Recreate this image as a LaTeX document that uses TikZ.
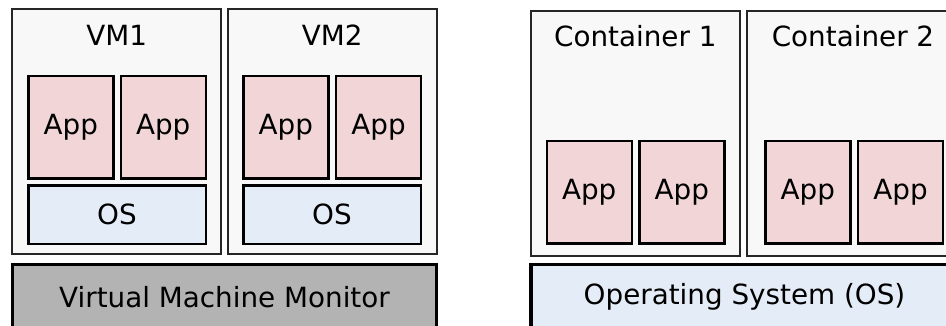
\documentclass[tikz,border=0pt]{standalone}
\usepackage{fontspec}
\setmainfont{DejaVu Sans}
\definecolor{outerfill}{RGB}{248,248,248}
\definecolor{appfill}{RGB}{242,214,215}
\definecolor{osfill}{RGB}{228,236,247}
\definecolor{vmmfill}{RGB}{179,179,179}
\begin{document}
\begin{tikzpicture}[x=1pt,y=-1pt,
  every node/.style={inner sep=0pt, outer sep=0pt, font=\fontsize{27.8}{33}\selectfont},
  outerbox/.style={draw=black!85, line width=2.3pt, fill=outerfill, anchor=north west, minimum width=209pt, minimum height=245pt},
  appbox/.style={draw=black, line width=2.4pt, fill=appfill, anchor=north west, minimum width=85pt, minimum height=102.5pt},
  osbox/.style={draw=black, line width=2.4pt, fill=osfill, anchor=north west, minimum width=177.4pt, minimum height=58.4pt},
  basebar/.style={draw=black, line width=3.2pt, anchor=north west, minimum height=64.7pt},
  title/.style={anchor=base}
]
\clip (0,0) rectangle (946,325);
% Virtual machines
\node[outerbox] (vm1) at (12.3,9) {};
\node[outerbox] (vm2) at (227.7,9) {};
\node[title] (vm1t) at (116.7,45.7) {VM1};
\node[title] (vm2t) at (332.2,45.7) {VM2};
\node[appbox] (a11) at (28.3,76) {App};
\node[appbox] (a12) at (120.7,76) {App};
\node[appbox] (a21) at (243.3,76) {App};
\node[appbox] (a22) at (336,76) {App};
\node[osbox] (os1) at (28.3,185.3) {OS};
\node[osbox] (os2) at (243.3,185.3) {OS};
\node[basebar, fill=vmmfill, minimum width=424.4pt] (vmm) at (12.3,264.3) {Virtual Machine Monitor};
% Containers
\node[outerbox] (c1) at (531,10.7) {};
\node[outerbox] (c2) at (747,10.7) {};
\node[title] (c1t) at (635.3,46.7) {Container 1};
\node[title] (c2t) at (853,46.7) {Container 2};
\node[appbox] (b11) at (546.7,141) {App};
\node[appbox] (b12) at (639.3,141) {App};
\node[appbox] (b21) at (765.3,141) {App};
\node[appbox] (b22) at (858,141) {App};
\node[basebar, fill=osfill, minimum width=427pt] (hostos) at (531,264.3) {Operating System (OS)};
\end{tikzpicture}
\end{document}
